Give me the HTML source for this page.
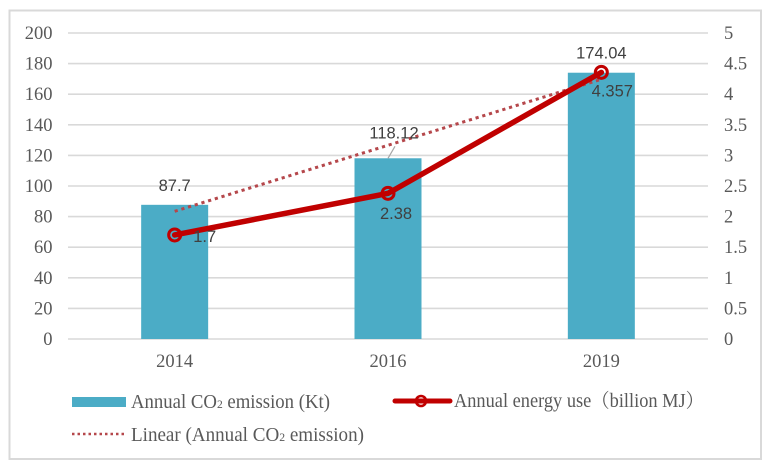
<!DOCTYPE html>
<html>
<head>
<meta charset="utf-8">
<style>
html,body{margin:0;padding:0;background:#fff;width:771px;height:470px;overflow:hidden}
svg{display:block}
text{font-family:"Liberation Serif","Noto Serif CJK SC",serif;fill:#595959;font-size:18.5px}
.dl{font-family:"Liberation Sans","Noto Sans CJK SC",sans-serif;fill:#404040;font-size:16.5px}
.lg{font-size:19.5px}
</style>
</head>
<body>
<svg id="chart" xmlns="http://www.w3.org/2000/svg" width="771" height="470" viewBox="0 0 771 470"></svg>
<script>
const categories = ['2014', '2016', '2019'];
const co2Values = [87.7, 118.12, 174.04];
const energyValues = [1.7, 2.38, 4.357];
const trendValues = [83.45, 126.62, 169.79];
const leftTicks = [0, 20, 40, 60, 80, 100, 120, 140, 160, 180, 200];
const rightTicks = ['0', '0.5', '1', '1.5', '2', '2.5', '3', '3.5', '4', '4.5', '5'];

const NS = 'http://www.w3.org/2000/svg';
const svg = document.getElementById('chart');
const plot = { l: 68, r: 708, t: 33, b: 339 };
const leftMax = 200, rightMax = 5;
const yL = v => plot.b - (v / leftMax) * (plot.b - plot.t);
const yR = v => plot.b - (v / rightMax) * (plot.b - plot.t);
const band = (plot.r - plot.l) / categories.length;
const xC = i => plot.l + band * (i + 0.5);

function mk(tag, attrs, text) {
  const e = document.createElementNS(NS, tag);
  for (const k in attrs) e.setAttribute(k, attrs[k]);
  if (text !== undefined) e.textContent = text;
  svg.appendChild(e);
  return e;
}

let el;
el = mk('rect', { x: 9.5, y: 10.5, width: 751.5, height: 448.5, fill: '#fff', stroke: '#d9d9d9', 'stroke-width': 2 });



leftTicks.forEach(t => {
  const g = mk('line', { x1: plot.l, x2: plot.r, y1: yL(t), y2: yL(t), stroke: '#d9d9d9', 'stroke-width': 1.6 });
  
  
  const lab = mk('text', { x: 52.5, y: yL(t) + 6, 'text-anchor': 'end' }, String(t));
  
  
});

rightTicks.forEach((t, i) => {
  const v = rightMax * i / (rightTicks.length - 1);
  const lab = mk('text', { x: 724, y: yR(v) + 6 }, t);
  
  
});

const barW = 67;
co2Values.forEach((v, i) => {
  const b = mk('rect', { x: xC(i) - barW / 2, y: yL(v), width: barW, height: plot.b - yL(v), fill: '#4bacc6' });
  
  
});

categories.forEach((c, i) => {
  const lab = mk('text', { x: xC(i), y: 367, 'text-anchor': 'middle' }, c);
  
  
});

el = mk('line', { x1: xC(1), y1: yL(co2Values[1]), x2: xC(1) + 7, y2: yL(co2Values[1]) - 12, stroke: '#a6a6a6', 'stroke-width': 1.2 });



el = mk('polyline', {
  points: trendValues.map((v, i) => xC(i) + ',' + yL(v)).join(' '),
  fill: 'none', stroke: '#b5474b', 'stroke-width': 3, 'stroke-dasharray': '3.2 3.8'
});



el = mk('polyline', {
  points: energyValues.map((v, i) => xC(i) + ',' + yR(v)).join(' '),
  fill: 'none', stroke: '#c00000', 'stroke-width': 5.5, 'stroke-linecap': 'round', 'stroke-linejoin': 'round'
});



energyValues.forEach((v, i) => {
  const p = mk('circle', { cx: xC(i), cy: yR(v), r: 6, fill: 'none', stroke: '#c00000', 'stroke-width': 3 });
  
  
});

co2Values.forEach((v, i) => {
  const lab = mk('text', { class: 'dl', x: xC(i) + [0, 6, 0][i], y: yL(v) - [14, 20, 14][i], 'text-anchor': 'middle' }, String(v));
  
  
});

energyValues.forEach((v, i) => {
  const lab = mk('text', { class: 'dl', x: xC(i) + [30, 8, 11][i], y: yR(v) + [7, 25.6, 24][i], 'text-anchor': 'middle' }, String(v));
  
  
});

/* legend */
el = mk('rect', { x: 72, y: 397, width: 54, height: 10, fill: '#4bacc6' });



function legendText(x, y, parts, name, len) {
  const t = mk('text', { class: 'lg', x: x, y: y, textLength: len, lengthAdjust: 'spacingAndGlyphs' });
  
  
  parts.forEach(p => {
    const s = document.createElementNS(NS, 'tspan');
    s.textContent = p[0];
    if (p[1]) {
      s.setAttribute('font-size', '12');
    }
    t.appendChild(s);
  });
  return t;
}
legendText(131, 408, [['Annual CO'], ['2', 1], [' emission (Kt)']], 'legend-label-co2', 199);

el = mk('line', { x1: 395, x2: 450, y1: 401, y2: 401, stroke: '#c00000', 'stroke-width': 5, 'stroke-linecap': 'round' });


el = mk('circle', { cx: 421, cy: 401, r: 5, fill: 'none', stroke: '#c00000', 'stroke-width': 2.6 });


legendText(454, 407, [['Annual energy use（billion MJ）']], 'legend-label-energy', 250);

el = mk('line', { x1: 72, x2: 126, y1: 434, y2: 434, stroke: '#b5474b', 'stroke-width': 2.5, 'stroke-dasharray': '2.5 3' });


legendText(131, 441, [['Linear (Annual CO'], ['2', 1], ['  emission)']], 'legend-label-trend', 233);
</script>
</body>
</html>
